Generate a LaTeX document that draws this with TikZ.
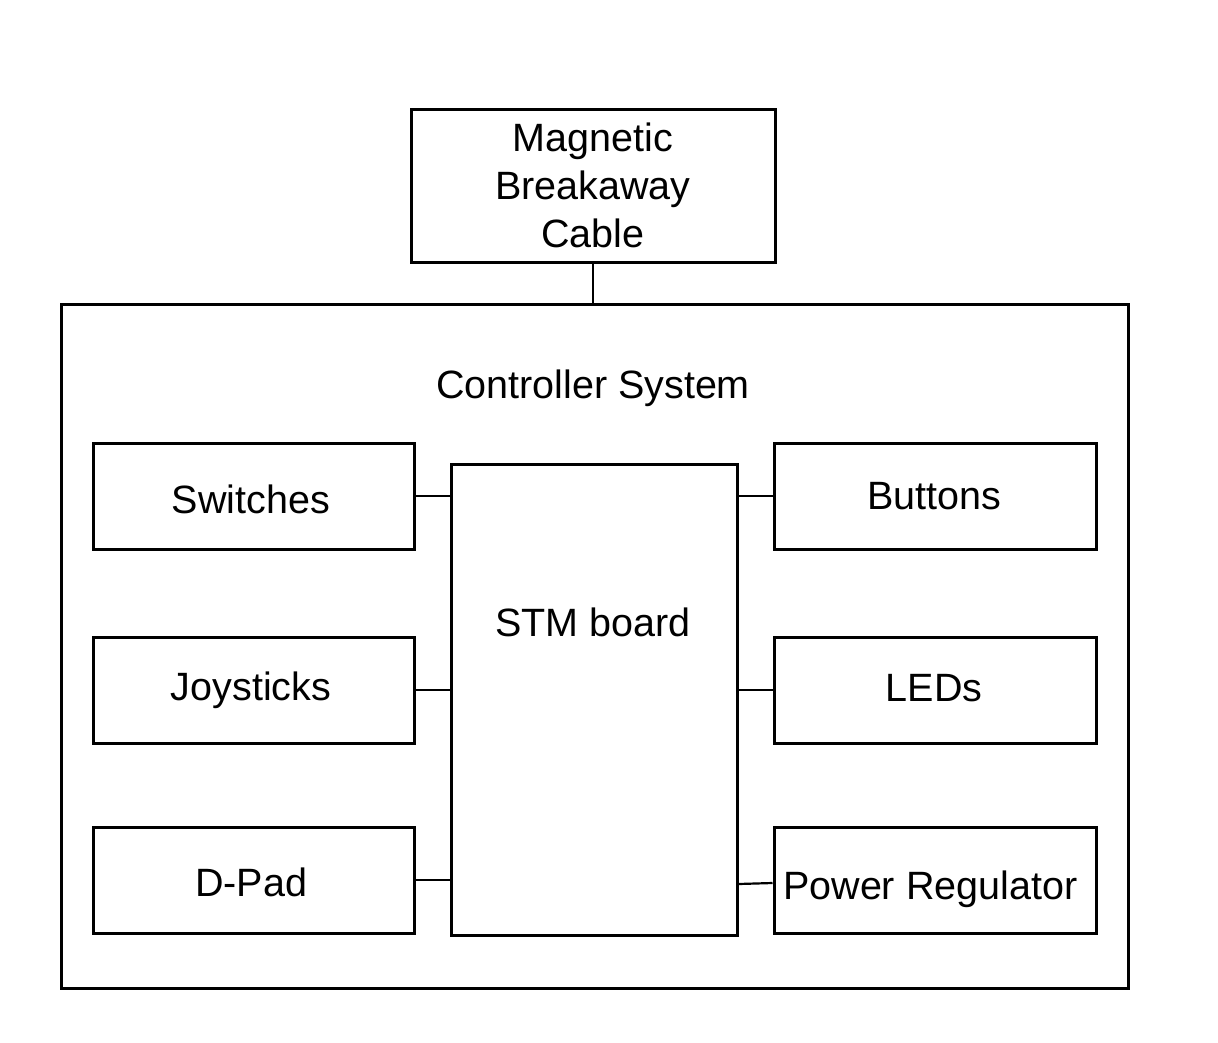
\documentclass[tikz,border=0pt]{standalone}
\usepackage{fontspec}
\setmainfont{Liberation Sans}
\begin{document}
\begin{tikzpicture}[x=1pt,y=-1pt,
  box/.style={draw,line width=3pt,rectangle,inner sep=0pt,align=center},
  wire/.style={line width=2.2pt},
  every node/.append style={font=\fontsize{39.5}{48}\selectfont}]
\useasboundingbox (0,0) rectangle (1218,1042);
\node[box,minimum width=1067,minimum height=684] (sys) at (594.5,646) {};
\node (systitle) at (593,388) {Controller System};
\node[box,minimum width=364,minimum height=153] (mag) at (593,185.5) {Magnetic\\Breakaway\\Cable};
\node[box,minimum width=286,minimum height=471] (stm) at (594,699.5) {};
\node (stmlabel) at (593,622) {STM board};
\node[box,minimum width=321,minimum height=106] (sw) at (253.5,496) {};
\node (swlabel) at (251,499) {Switches};
\node[box,minimum width=321,minimum height=106] (joy) at (253.5,690) {};
\node (joylabel) at (251,690) {Joysticks};
\node[box,minimum width=321,minimum height=106] (dpad) at (253.5,880) {};
\node (dpadlabel) at (251,882) {D-Pad};
\node[box,minimum width=322,minimum height=106] (btn) at (935,496) {};
\node (btnlabel) at (934,496) {Buttons};
\node[box,minimum width=322,minimum height=106] (led) at (935,690) {};
\node (ledlabel) at (934,688) {LEDs};
\node[box,minimum width=322,minimum height=106] (pwr) at (935,880) {};
\node[anchor=west,inner sep=0pt] (pwrlabel) at (783,889) {Power Regulator};
\draw[wire] (mag.south) -- (mag.south |- sys.north);
\draw[wire] (sw.east) -- (stm.west |- sw.east);
\draw[wire] (joy.east) -- (stm.west |- joy.east);
\draw[wire] (dpad.east) -- (stm.west |- dpad.east);
\draw[wire] (btn.west) -- (stm.east |- btn.west);
\draw[wire] (led.west) -- (stm.east |- led.west);
\draw[wire] (stm.east |- 0,884) -- (pwr.west |- 0,883);
\end{tikzpicture}
\end{document}
